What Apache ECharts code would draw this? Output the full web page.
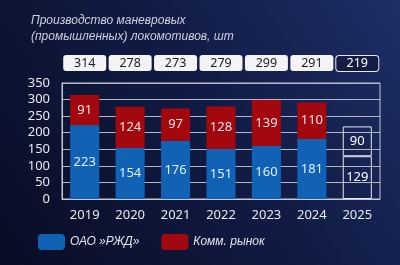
<!DOCTYPE html>
<html>
<head>
<meta charset="utf-8">
<script src="https://cdn.jsdelivr.net/npm/echarts@6/dist/echarts.min.js"></script>
<style>
  html, body { margin: 0; padding: 0; }
  #main { width: 400px; height: 265px; }
</style>
</head>
<body>
<div id="main"></div>
<script>
var years = ['2019', '2020', '2021', '2022', '2023', '2024', '2025'];
var rzd = [223, 154, 176, 151, 160, 181, 129];
var market = [91, 124, 97, 128, 139, 110, 90];
var totals = [314, 278, 273, 279, 299, 291, 219];
var yTicks = { min: 0, max: 350, interval: 50 };

// last year is a forecast: drawn as empty outlined boxes
var forecastIndex = years.length - 1;

function buildData(values) {
  return values.map(function (v, i) {
    if (i !== forecastIndex) return v;
    return {
      value: v,
      itemStyle: { color: 'rgba(0,0,0,0)', borderColor: '#e6e8f0', borderWidth: 1 },
      label: { color: '#ffffff' }
    };
  });
}

var myChart = echarts.init(document.getElementById('main'));

var option = {
  backgroundColor: {
    type: 'linear', x: 0, y: 1, x2: 1, y2: 0,
    colorStops: [
      { offset: 0, color: '#080d24' },
      { offset: 0.55, color: '#111b44' },
      { offset: 1, color: '#1e2f66' }
    ]
  },
  title: {
    text: 'Производство маневровых\n(промышленных) локомотивов, шт',
    left: 26, top: 8,
    textStyle: {
      color: '#cdd1de', fontSize: 12, fontStyle: 'italic', fontWeight: 'normal',
      fontFamily: 'Liberation Sans', lineHeight: 16
    }
  },
  legend: {
    left: 33, top: 229,
    itemWidth: 27, itemHeight: 16, itemGap: 22,
    icon: 'roundRect',
    textStyle: { color: '#e4e6ee', fontSize: 12, fontStyle: 'italic', fontFamily: 'Liberation Sans' },
    data: ['ОАО »РЖД»', 'Комм. рынок']
  },
  grid: {
    left: 62, right: 20, top: 83, bottom: 66,
    show: true, borderColor: '#c4c8d4', borderWidth: 1
  },
  xAxis: [{
    type: 'category', data: years,
    axisLine: { lineStyle: { color: '#c4c8d4' } },
    axisTick: { show: false },
    axisLabel: { color: '#e8eaf0', fontSize: 13, margin: 10, fontFamily: 'Noto Sans' }
  }, {
    type: 'category', data: totals, position: 'top',
    axisLine: { show: false }, axisTick: { show: false },
    axisLabel: {
      margin: 12, interval: 0,
      formatter: function (v, i) {
        return i === forecastIndex ? '{f|' + v + '}' : '{b|' + v + '}';
      },
      rich: {
        b: {
          width: 43, height: 16, align: 'center', fontSize: 12.5, color: '#1a1a22',
          backgroundColor: '#f4f4f6', borderRadius: 3, fontFamily: 'Noto Sans'
        },
        f: {
          width: 42, height: 15, align: 'center', fontSize: 12.5, color: '#ffffff',
          backgroundColor: '#131c45', borderColor: '#e6e8f0', borderWidth: 1,
          borderRadius: 3, fontFamily: 'Noto Sans'
        }
      }
    }
  }],
  yAxis: {
    type: 'value', min: yTicks.min, max: yTicks.max, interval: yTicks.interval,
    axisLine: { show: true, lineStyle: { color: '#c4c8d4' } },
    axisLabel: { color: '#e8eaf0', fontSize: 13, margin: 12, fontFamily: 'Noto Sans' },
    splitLine: { lineStyle: { color: '#b4b8c6', width: 1 } }
  },
  series: [{
    name: 'ОАО »РЖД»', type: 'bar', stack: 'total', barWidth: '64%',
    itemStyle: { color: '#1162b4' },
    label: { show: true, position: 'inside', color: '#dcefff', fontSize: 13, fontFamily: 'Noto Sans' },
    data: buildData(rzd)
  }, {
    name: 'Комм. рынок', type: 'bar', stack: 'total', barWidth: '64%',
    itemStyle: { color: '#a2080e' },
    label: { show: true, position: 'inside', color: '#f6e2e2', fontSize: 13, fontFamily: 'Noto Sans' },
    data: buildData(market)
  }]
};

myChart.setOption(option);
</script>
</body>
</html>
